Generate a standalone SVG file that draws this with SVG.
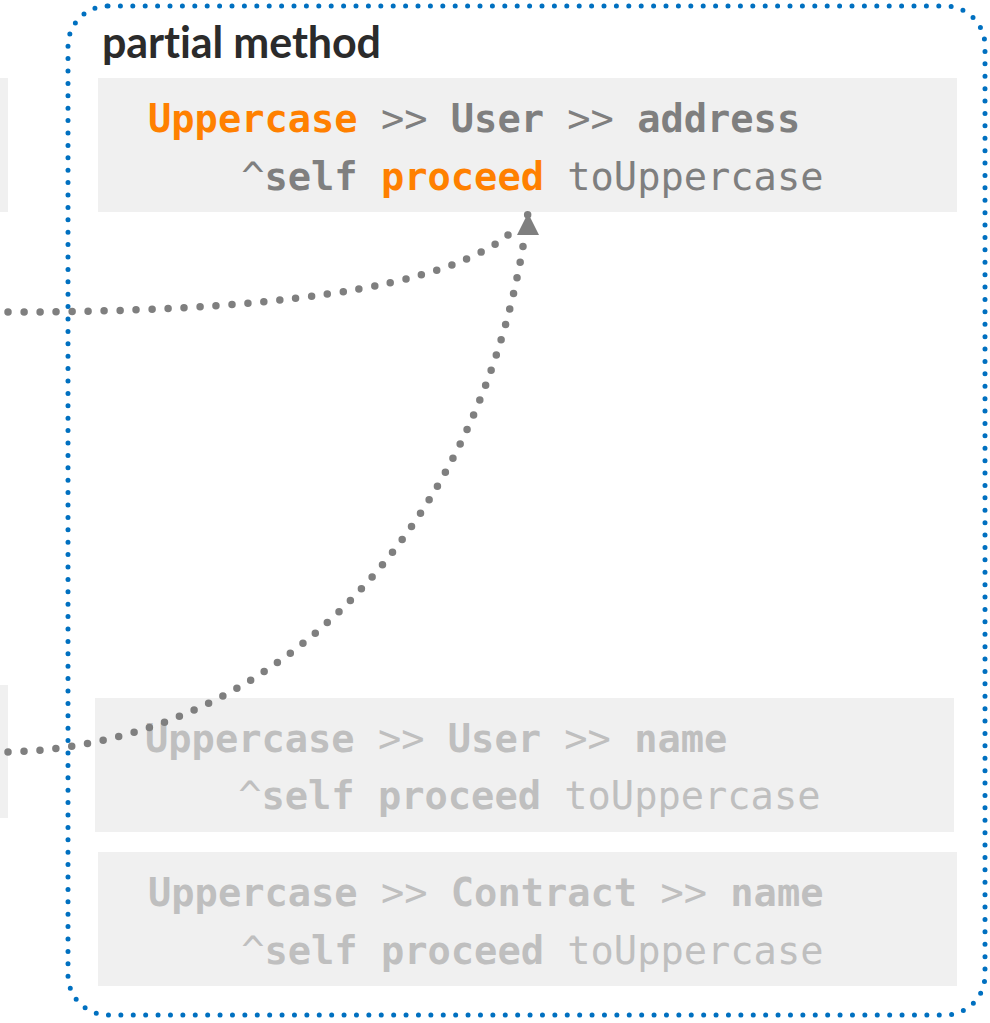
<svg xmlns="http://www.w3.org/2000/svg" width="990" height="1023" viewBox="0 0 990 1023">
  <style>
    .panel { fill: #f0f0f0; }
    .frame { fill: none; stroke: #0070c0; stroke-width: 5; stroke-dasharray: 0 12.4; stroke-linecap: round; }
    .title { font-family: Lato, "Liberation Sans", sans-serif; font-weight: 700; font-size: 43px; fill: #2b2b2b; letter-spacing: -0.1px; }
    .code { font-family: "DejaVu Sans Mono", "Liberation Mono", monospace; font-size: 38.7px; white-space: pre; }
    .b { font-weight: 700; }
    .gray { fill: #7f7f7f; }
    .orange { fill: #ff8000; }
    .faded { fill: #bfbfbf; }
    .link { fill: none; stroke: #7f7f7f; stroke-width: 7.5; stroke-dasharray: 0 16; stroke-linecap: round; }
  </style>
  <rect width="990" height="1023" fill="#ffffff"/>

  <!-- neighbouring panels, cut off at the left edge -->
  <g id="left-panel-top"><rect class="panel" x="0" y="78" width="8" height="134"/></g>
  <g id="left-panel-bottom"><rect class="panel" x="0" y="685" width="8" height="133"/></g>

  <!-- partial method container -->
  <g id="partial-method">
    <rect class="frame" x="68" y="6" width="917" height="1009" rx="40" ry="40"/>
    <text class="title" x="102" y="58">partial method</text>
  </g>

  <g id="method-user-address">
    <rect class="panel" x="98" y="78" width="859" height="134"/>
    <text class="code" x="148" y="132" xml:space="preserve"><tspan class="b orange">Uppercase</tspan><tspan class="gray"> &gt;&gt; </tspan><tspan class="b gray">User</tspan><tspan class="gray"> &gt;&gt; </tspan><tspan class="b gray">address</tspan></text>
    <text class="code" x="148" y="190" xml:space="preserve"><tspan class="gray">    ^</tspan><tspan class="b gray">self</tspan><tspan class="gray"> </tspan><tspan class="b orange">proceed</tspan><tspan class="gray"> toUppercase</tspan></text>
  </g>

  <g id="method-user-name">
    <rect class="panel" x="95" y="698" width="859" height="134"/>
    <text class="code faded" x="145" y="752" xml:space="preserve"><tspan class="b">Uppercase</tspan><tspan> &gt;&gt; </tspan><tspan class="b">User</tspan><tspan> &gt;&gt; </tspan><tspan class="b">name</tspan></text>
    <text class="code faded" x="145" y="809" xml:space="preserve"><tspan>    ^</tspan><tspan class="b">self</tspan><tspan> </tspan><tspan class="b">proceed</tspan><tspan> toUppercase</tspan></text>
  </g>

  <g id="method-contract-name">
    <rect class="panel" x="98" y="852" width="859" height="134"/>
    <text class="code faded" x="148" y="906" xml:space="preserve"><tspan class="b">Uppercase</tspan><tspan> &gt;&gt; </tspan><tspan class="b">Contract</tspan><tspan> &gt;&gt; </tspan><tspan class="b">name</tspan></text>
    <text class="code faded" x="148" y="964" xml:space="preserve"><tspan>    ^</tspan><tspan class="b">self</tspan><tspan> </tspan><tspan class="b">proceed</tspan><tspan> toUppercase</tspan></text>
  </g>

  <!-- connectors -->
  <g id="connectors">
    <path class="link" d="M8 312 C 250 312, 450 292, 516 228"/>
    <path class="link" d="M8 752 C 280 745, 490 520, 528 212"/>
    <path d="M528 213 L539 235 L517 235 Z" fill="#7f7f7f"/>
  </g>
</svg>
